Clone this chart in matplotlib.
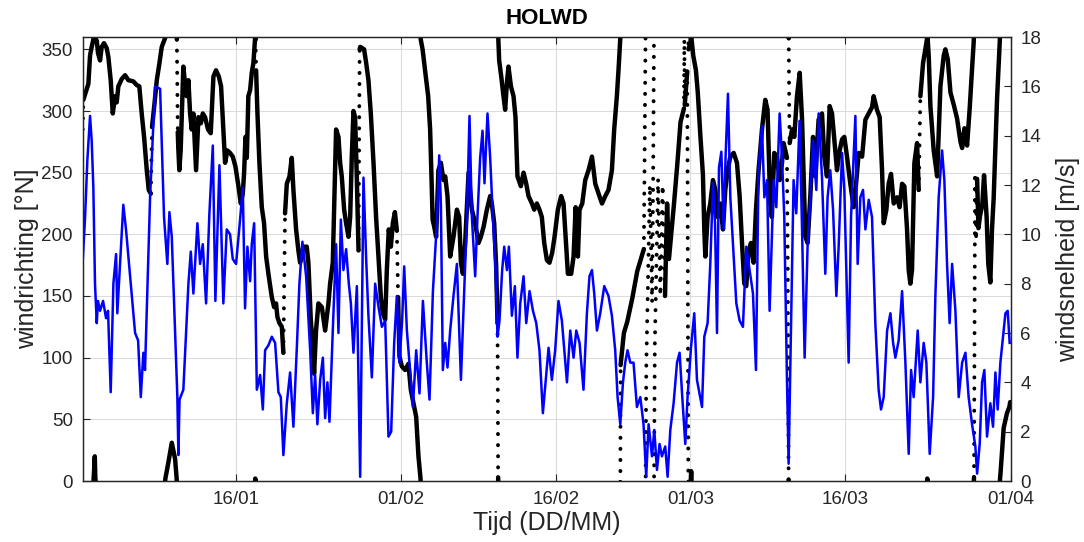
import numpy as np
import matplotlib
matplotlib.use("Agg")
import matplotlib.pyplot as plt

plt.rcParams['font.family'] = ['Liberation Sans', 'DejaVu Sans']

# ---------------- data (days since 01/01 00:00) ----------------
title = "HOLWD"
x_label = "Tijd (DD/MM)"
y_left_label = "windrichting [°N]"
y_right_label = "windsnelheid [m/s]"

tick_days = [15, 31, 46, 59, 74, 90]
tick_labels = ["16/01", "01/02", "16/02", "01/03", "16/03", "01/04"]

# wind speed [m/s]
speed_t = [0.20, 0.43, 0.65, 0.91, 1.07, 1.23, 1.39, 1.56, 1.68, 1.88, 2.17, 2.46, 2.65, 2.91, 3.17, 3.43,
           3.55, 4.13, 4.39, 5.27, 5.56, 5.82, 6.07, 6.23, 6.72, 7.20, 7.69, 8.07, 8.39, 8.59, 8.82, 9.36,
           9.46, 9.57, 9.94, 10.43, 10.66, 10.91, 11.30, 11.56, 11.82, 12.14, 12.46, 12.79, 13.04, 13.43,
           13.81, 14.14, 14.46, 14.72, 15.04, 15.43, 15.69, 15.91, 16.14, 16.40, 16.56, 16.79, 17.05, 17.37,
           17.63, 17.85, 18.17, 18.50, 18.82, 19.14, 19.37, 19.62, 19.95, 20.27, 20.59, 20.92, 21.17, 21.46,
           21.82, 22.21, 22.47, 22.69, 22.91, 23.18, 23.44, 23.66, 23.88, 24.08, 24.40, 24.72, 24.95, 25.18,
           25.43, 25.69, 25.95, 26.15, 26.40, 26.73, 27.05, 27.37, 27.63, 27.85, 28.18, 28.50, 28.82, 29.15,
           29.47, 29.79, 30.05, 30.34, 30.60, 30.85, 31.11, 31.31, 31.57, 31.82, 32.15, 32.47, 32.79, 33.12,
           33.50, 33.76, 34.09, 34.47, 34.70, 34.86, 35.05, 35.28, 35.50, 35.76, 36.08, 36.41, 36.80, 37.12,
           37.38, 37.63, 37.86, 38.18, 38.40, 38.66, 38.89, 39.08, 39.37, 39.63, 39.89, 40.14, 40.34, 40.53,
           40.79, 40.99, 41.25, 41.44, 41.73, 42.02, 42.27, 42.54, 42.86, 43.12, 43.44, 43.77, 44.09, 44.40,
           44.73, 44.99, 45.28, 45.60, 45.92, 46.24, 46.57, 47.06, 47.38, 47.70, 47.96, 48.28, 48.66, 48.99,
           49.24, 49.48, 49.70, 49.96, 50.28, 50.67, 51.08, 51.41, 51.73, 51.96, 52.22, 52.48, 52.70, 52.92,
           53.19, 53.50, 53.83, 54.16, 54.47, 54.73, 54.96, 55.29, 55.51, 55.77, 56.02, 56.25, 56.57, 56.80,
           57.06, 57.38, 57.71, 57.96, 58.22, 58.51, 58.73, 59.06, 59.38, 59.64, 59.89, 60.13, 60.35, 60.67,
           60.93, 61.19, 61.39, 61.58, 61.77, 62.00, 62.22, 62.41, 62.64, 62.87, 63.13, 63.45, 63.77, 64.09,
           64.41, 64.73, 65.06, 65.35, 65.60, 65.93, 66.16, 66.42, 66.67, 66.86, 67.06, 67.32, 67.64, 67.87,
           68.09, 68.35, 68.51, 68.74, 68.99, 69.25, 69.57, 69.81, 70.06, 70.35, 70.61, 70.87, 71.19, 71.41,
           71.74, 72.06, 72.28, 72.54, 72.81, 73.13, 73.35, 73.68, 73.90, 74.16, 74.32, 74.55, 74.97, 75.19,
           75.45, 75.71, 75.94, 76.26, 76.58, 76.90, 77.22, 77.45, 77.71, 78.04, 78.36, 78.62, 78.84, 79.16,
           79.49, 79.81, 80.13, 80.36, 80.61, 81.00, 81.26, 81.58, 81.84, 82.16, 82.49, 82.71, 83.03, 83.36,
           83.58, 83.84, 84.09, 84.33, 84.65, 84.97, 85.30, 85.62, 85.93, 86.26, 86.58, 86.75, 87.00, 87.23,
           87.45, 87.71, 88.03, 88.29, 88.52, 88.74, 89.00, 89.26, 89.49, 89.71, 89.90]
speed_v = [8.9, 10.7, 13.0, 14.8, 13.8, 11.9, 8.0, 6.4, 7.3, 6.9, 7.3, 6.6, 6.9, 3.6, 8.0, 9.2,
           6.8, 11.2, 10.2, 6.0, 5.7, 3.4, 5.2, 4.5, 11.5, 16.0, 15.9, 10.7, 8.8, 10.9, 9.9, 3.4,
           1.05, 3.3, 3.7, 8.0, 9.3, 7.6, 10.45, 8.8, 9.6, 7.2, 10.85, 13.6, 7.3, 12.8,
           7.2, 10.2, 10.0, 9.0, 8.8, 10.6, 11.9, 7.0, 9.5, 8.1, 9.6, 10.45, 3.7, 4.3,
           2.9, 5.3, 5.5, 5.85, 5.6, 3.6, 3.4, 1.05, 3.15, 4.4, 2.2, 5.4, 8.0, 9.7,
           8.3, 5.3, 2.75, 4.3, 2.3, 4.1, 5.0, 2.55, 4.0, 2.4, 6.1, 9.6, 6.0, 10.6,
           8.55, 9.4, 8.0, 7.2, 5.2, 7.9, 0.17, 12.3, 9.0, 6.7, 4.2, 8.0, 7.07, 6.25,
           6.5, 1.8, 2.0, 5.6, 7.5, 4.8, 6.5, 8.7, 6.1, 4.8, 3.0, 5.3, 3.55, 7.3,
           4.8, 3.3, 7.7, 10.45, 13.2, 11.25, 4.5, 5.6, 4.6, 6.1, 7.5, 8.8, 4.1, 7.7,
           10.7, 14.8, 10.7, 8.3, 10.7, 13.1, 14.2, 12.07, 14.9, 13.1, 10.7, 8.7, 5.85, 6.5,
           8.55, 9.5, 8.55, 9.5, 6.7, 7.9, 5.0, 7.2, 8.3, 6.4, 7.7, 6.9, 6.4, 5.3,
           2.75, 4.0, 5.4, 4.1, 5.3, 7.3, 6.5, 4.0, 6.1, 5.0, 6.1, 5.6, 3.7, 6.8,
           8.3, 8.55, 7.6, 6.1, 6.8, 7.9, 7.5, 6.7, 5.3, 3.4, 2.3, 4.0, 4.8, 5.3,
           4.8, 4.8, 3.0, 3.4, 2.3, 0.17, 2.3, 1.0, 2.07, 0.45, 1.5, 1.0, 1.4, 0.17,
           2.07, 3.15, 4.8, 5.2, 3.4, 1.5, 3.4, 5.4, 6.8, 4.1, 3.55, 3.0, 5.85, 6.4,
           8.8, 12.07, 10.45, 6.0, 12.7, 13.35, 10.2, 13.15, 15.7, 11.5, 9.6, 7.2, 6.5, 6.25,
           9.5, 8.55, 7.6, 4.5, 12.6, 14.4, 11.5, 12.2, 6.9, 9.5, 12.2, 11.1, 14.9, 13.1,
           10.7, 4.1, 0.7, 6.1, 12.2, 10.85, 14.6, 10.2, 5.0, 9.6, 11.5, 13.8, 11.8, 14.9,
           12.3, 8.4, 11.5, 12.6, 11.0, 7.5, 9.5, 13.3, 11.8, 7.5, 4.8, 10.7, 14.8, 8.8,
           11.5, 11.8, 10.2, 11.4, 10.7, 6.4, 3.7, 2.9, 3.4, 6.1, 6.8, 5.6, 5.0, 5.7,
           7.7, 4.8, 1.1, 4.5, 3.4, 6.1, 4.0, 5.6, 4.8, 1.1, 3.4, 7.5, 11.5, 13.4,
           12.2, 8.8, 6.4, 8.8, 6.9, 3.4, 4.8, 5.2, 3.4, 2.3, 1.4, 0.3, 1.5, 4.0,
           4.5, 1.8, 3.15, 2.2, 4.4, 2.9, 4.8, 5.85, 6.8, 6.9, 5.6]

# wind direction [deg N]
dir_t = [0.20, 0.26, 0.75, 0.91, 1.07, 1.23, 1.28, 1.37, 1.42, 1.47, 1.56, 1.68, 1.88, 2.04, 2.26, 2.52,
         2.68, 2.91, 3.11, 3.33, 3.49, 3.65, 3.98, 4.30, 4.62, 5.10, 5.43, 5.68, 5.91, 6.14, 6.40, 6.59,
         6.79, 6.91, 7.11, 7.37, 7.63, 7.85, 8.17, 8.20, 8.49, 8.82, 9.14, 9.30, 9.31, 9.40, 9.45, 9.55,
         9.68, 9.94, 10.10, 10.27, 10.43, 10.59, 10.75, 10.91, 11.17, 11.40, 11.63, 11.82, 12.04, 12.33,
         12.59, 12.85, 13.10, 13.37, 13.59, 13.81, 13.98, 14.20, 14.46, 14.72, 14.98, 15.27, 15.50, 15.69,
         15.82, 15.95, 16.08, 16.23, 16.40, 16.56, 16.72, 16.88, 16.90, 16.92, 16.98, 17.11, 17.30, 17.53,
         17.75, 17.95, 18.17, 18.50, 18.72, 18.91, 19.04, 19.24, 19.47, 19.62, 19.78, 19.95, 20.21, 20.43,
         20.59, 20.85, 21.07, 21.24, 21.56, 21.88, 22.04, 22.27, 22.47, 22.59, 22.78, 23.01, 23.34, 23.66,
         23.98, 24.14, 24.40, 24.56, 24.72, 24.95, 25.11, 25.27, 25.50, 25.69, 25.92, 26.08, 26.24, 26.40,
         26.56, 26.73, 26.89, 27.00, 27.05, 27.43, 27.63, 27.85, 28.08, 28.34, 28.59, 28.82, 29.05, 29.24,
         29.47, 29.63, 29.82, 30.02, 30.21, 30.41, 30.60, 30.72, 30.85, 31.08, 31.40, 31.72, 31.95, 32.21,
         32.47, 32.69, 32.89, 32.91, 33.09, 33.40, 33.63, 33.82, 33.96, 34.06, 34.22, 34.40, 34.62, 34.86,
         35.11, 35.28, 35.50, 35.76, 36.08, 36.41, 36.63, 36.80, 36.99, 37.21, 37.54, 37.86, 38.18, 38.50,
         38.73, 38.99, 39.31, 39.63, 39.79, 40.02, 40.21, 40.34, 40.37, 40.40, 40.42, 40.50, 40.70, 40.92,
         41.08, 41.25, 41.40, 41.64, 41.89, 42.08, 42.27, 42.60, 42.86, 43.12, 43.34, 43.67, 43.89, 44.15,
         44.40, 44.63, 44.86, 45.12, 45.37, 45.63, 45.86, 46.18, 46.50, 46.73, 46.99, 47.15, 47.47, 47.70,
         47.90, 48.12, 48.28, 48.54, 48.83, 49.15, 49.48, 49.80, 50.12, 50.45, 50.77, 51.08, 51.41, 51.63,
         51.89, 52.09, 52.22, 52.23, 52.24, 52.25, 52.57, 52.89, 53.38, 53.86, 54.50, 54.58, 54.66, 54.67,
         54.74, 54.85, 55.08, 55.30, 55.40, 55.48, 55.49, 55.56, 55.66, 55.88, 56.10, 56.32, 56.55, 56.75,
         56.93, 57.41, 57.73, 58.05, 58.38, 58.42, 58.46, 58.70, 58.74, 58.77, 58.80, 58.82, 59.02, 59.08,
         59.12, 59.28, 59.54, 59.72, 59.97, 60.22, 60.35, 60.45, 60.67, 60.93, 61.19, 61.42, 61.64, 61.90,
         62.16, 62.38, 62.61, 62.87, 63.19, 63.51, 63.77, 64.00, 64.22, 64.41, 64.64, 64.87, 65.12, 65.35,
         65.60, 65.93, 66.25, 66.47, 66.73, 66.89, 67.12, 67.38, 67.64, 67.87, 68.02, 68.19, 68.35, 68.42,
         68.47, 68.51, 68.52, 68.57, 68.61, 68.84, 69.06, 69.32, 69.58, 69.81, 70.13, 70.35, 70.61, 70.87,
         71.10, 71.41, 71.74, 71.96, 72.22, 72.48, 72.71, 72.93, 73.19, 73.45, 73.68, 73.90, 74.16, 74.48,
         74.80, 75.07, 75.29, 75.62, 75.94, 76.26, 76.58, 76.74, 77.06, 77.32, 77.55, 77.71, 77.97, 78.19,
         78.42, 78.68, 79.00, 79.25, 79.49, 79.71, 79.97, 80.13, 80.29, 80.45, 80.68, 80.94, 81.10, 81.26,
         81.52, 81.74, 81.91, 81.93, 81.97, 82.07, 82.23, 82.55, 82.88, 83.20, 83.52, 83.68, 83.91, 84.17,
         84.49, 84.81, 85.14, 85.30, 85.52, 85.78, 86.03, 86.26, 86.42, 86.45, 86.50, 86.55, 86.65, 86.75,
         86.88, 87.03, 87.25, 87.42, 87.67, 87.83, 88.03, 88.19, 88.35, 88.68, 88.94, 88.97, 89.03, 89.32,
         89.64, 89.87, 89.95]
dir_v = [285, 309, 322, 345, 352, 358, 5, 20, 3, 358, 357, 347, 341, 352, 355, 351,
         344, 325, 298, 312, 307, 320, 326, 329, 325, 324, 321, 320, 298, 279, 252, 236,
         233, 287, 303, 325, 339, 352, 359, 2, 15, 31, 18, 1, 358, 283, 270, 252,
         268, 336, 322, 312, 325, 298, 285, 298, 252, 295, 290, 298, 295, 285,
         282, 328, 333, 328, 320, 285, 258, 268, 266, 263, 255, 239, 225, 233,
         250, 279, 262, 312, 317, 331, 339, 359, 2, 358, 333, 298, 258, 222,
         209, 182, 168, 149, 141, 144, 133, 128, 125, 104, 217, 241, 247, 262,
         236, 204, 187, 177, 190, 190, 177, 131, 109, 87, 122, 144, 141, 122,
         144, 160, 177, 231, 285, 279, 258, 247, 220, 209, 198, 214, 263, 300,
         295, 244, 187, 350, 352, 350, 339, 325, 298, 258, 214, 182, 149, 136,
         131, 171, 204, 190, 209, 218, 203, 149, 101, 93, 90, 95, 74, 63,
         52, 20, 2, 358, 350, 328, 312, 285, 244, 212, 206, 198, 252, 258,
         244, 247, 231, 182, 198, 220, 214, 177, 168, 193, 250, 220, 209, 193,
         198, 206, 220, 231, 225, 209, 174, 128, 68, 3, 358, 341, 328, 312,
         301, 323, 336, 320, 312, 295, 247, 239, 250, 241, 231, 225, 220, 225,
         220, 214, 193, 179, 177, 185, 198, 220, 231, 225, 190, 168, 168, 182,
         222, 182, 220, 225, 244, 252, 263, 241, 233, 225, 231, 236, 252, 285,
         312, 339, 359, 5, 50, 94, 120, 129, 148, 170, 188, 270, 358, 2,
         95, 140, 240, 145, 245, 358, 2, 110, 150, 245, 150, 240, 150, 225,
         180, 224, 256, 291, 302, 358, 305, 332, 218, 110, 2, 350, 356, 8,
         358, 345, 333, 315, 280, 248, 204, 182, 214, 225, 244, 236, 214, 225,
         204, 236, 252, 263, 266, 258, 231, 193, 160, 158, 187, 193, 177, 220,
         252, 285, 309, 301, 225, 214, 266, 263, 244, 258, 274, 268, 262, 180,
         90, 1, 359, 300, 274, 285, 279, 312, 331, 293, 198, 193, 231, 279,
         247, 293, 298, 263, 247, 304, 298, 277, 252, 268, 277, 279, 263, 241,
         222, 244, 266, 263, 293, 298, 303, 312, 301, 295, 252, 209, 220, 241,
         249, 225, 230, 222, 241, 239, 204, 171, 160, 171, 258, 274, 236, 312,
         339, 350, 359, 2, 358, 344, 304, 268, 247, 320, 345, 350, 342, 315,
         305, 294, 275, 270, 286, 272, 302, 334, 356, 3, 120, 250, 195, 245,
         205, 215, 224, 248, 214, 176, 161, 204, 229, 310, 356, 2, 8, 43,
         55, 60, 64]

# ---------------- figure ----------------
W, H = 1084, 542
fig = plt.figure(figsize=(W / 100, H / 100), dpi=100)
ax = fig.add_axes([82.7 / W, 61 / H, 928 / W, 444 / H])

txt = '#262626'
ax.set_xlim(0.2, 90)
ax.set_ylim(0, 360)
ax.set_yticks(np.arange(0, 351, 50))
ax.set_xticks(tick_days)
ax.set_xticklabels(tick_labels)
ax.grid(True, color='#dcdcdc', lw=0.8)
ax.set_axisbelow(True)

# wind direction: unwrap and draw shifted copies so the 0/360 wrap is clipped by the axes
t = np.asarray(dir_t, float)
u = np.unwrap(np.asarray(dir_v, float), period=360)
rate = np.abs(np.diff(u)) / np.diff(t)
steep = rate > 380
start = 0
n = len(steep)
for i in range(1, n + 1):
    if i == n or steep[i] != steep[start]:
        seg = slice(start, i + 1)
        for k in range(-3, 4):
            if steep[start]:
                ax.plot(t[seg], u[seg] + 360 * k, color='black', lw=2.8,
                        linestyle=(0, (0.05, 2.8)), dash_capstyle='round')
            else:
                ax.plot(t[seg], u[seg] + 360 * k, color='black', lw=3.2,
                        solid_capstyle='round', solid_joinstyle='round')
        start = i

ax2 = ax.twinx()
ax2.plot(speed_t, speed_v, color='#0000ff', lw=1.8)
ax2.set_ylim(0, 18)
ax2.set_yticks(np.arange(0, 19, 2))
ax2.set_xlim(0.2, 90)

for a in (ax, ax2):
    for s in a.spines.values():
        s.set_color(txt)
        s.set_linewidth(0.9)
ax.tick_params(axis='both', direction='in', length=5, width=0.8, colors=txt,
               labelsize=13.5, pad=7, top=True)
ax2.tick_params(axis='y', direction='in', length=5, width=0.8, colors=txt,
                labelsize=13.5, pad=7)

ax.set_title(title, fontsize=16, fontweight='bold', pad=9, color='black')
ax.set_xlabel(x_label, fontsize=18, color=txt)
ax.set_ylabel(y_left_label, fontsize=18, color=txt)
ax2.set_ylabel(y_right_label, fontsize=18, color=txt)
ax.xaxis.set_label_coords(0.5, -0.068)
ax.yaxis.set_label_coords(-0.047, 0.5)
ax2.yaxis.set_label_coords(1.049, 0.5)

fig.savefig('out.png', dpi=100)
